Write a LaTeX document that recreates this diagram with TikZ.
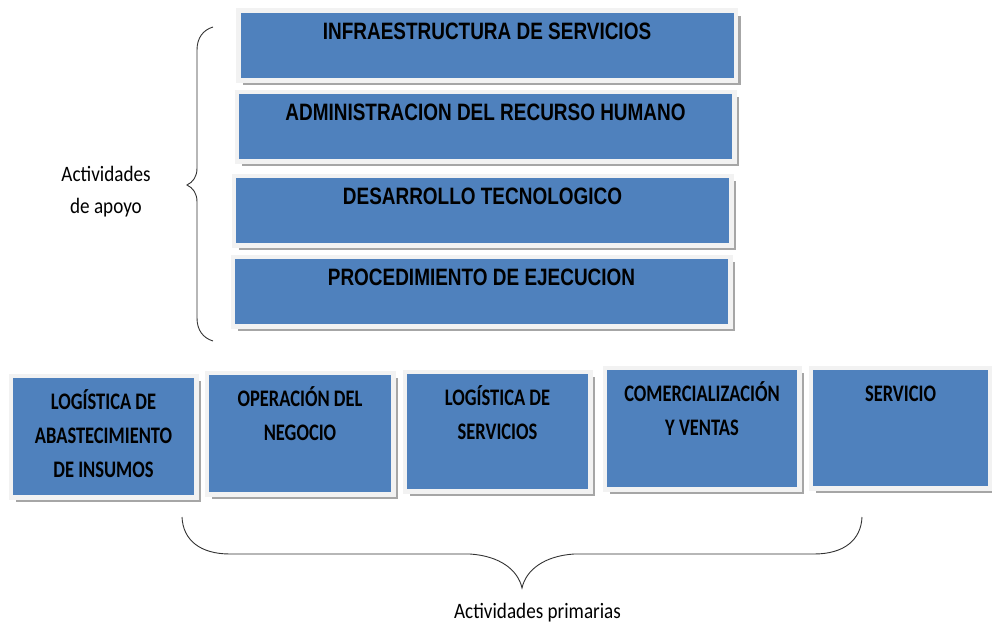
\documentclass[tikz,border=0pt]{standalone}
\usepackage{fontspec}
\newfontfamily\arialfont[FakeStretch=0.8]{Liberation Sans}
\newfontfamily\calibrifont[FakeStretch=0.78]{Carlito}
\newfontfamily\calibrilbl[FakeStretch=0.87]{Carlito}
\usetikzlibrary{shadows}
\definecolor{boxblue}{HTML}{4F81BD}
\definecolor{boxframe}{HTML}{F2F2F2}
\definecolor{boxshadow}{HTML}{A6A6A6}

\begin{document}
\begin{tikzpicture}[x=1pt,y=-1pt,
			caja/.style={rectangle,fill=boxblue,draw=boxframe,line width=4.5pt,
				inner sep=0pt,outer sep=0pt,
				drop shadow={shadow xshift=5pt,shadow yshift=-5pt,fill=boxshadow,opacity=1}},
			apoyo/.style={caja,minimum width=497.5pt,minimum height=69.5pt},
			apoyotxt/.style={anchor=north,inner sep=0pt,yshift=-12.25pt,
				font=\arialfont\bfseries\fontsize{23.7}{28}\selectfont},
			primtxt/.style={anchor=north,inner sep=0pt,yshift=-14pt,align=center,
				font=\calibrifont\bfseries\fontsize{23.7}{34}\selectfont},
			etiqueta/.style={inner sep=0pt,align=center,
				font=\calibrilbl\fontsize{22}{32}\selectfont},
			llave/.style={draw=black!80,line width=0.9pt}]
		\useasboundingbox (0,0) rectangle (992,626);

		% actividades de apoyo
		\node[apoyo,label={[apoyotxt]north:INFRAESTRUCTURA DE SERVICIOS}] (infra) at (487,45.5) {};
		\node[apoyo,label={[apoyotxt]north:ADMINISTRACION DEL RECURSO HUMANO}] (rrhh) at (485.5,126.5) {};
		\node[apoyo,label={[apoyotxt]north:DESARROLLO TECNOLOGICO}] (tecno) at (482.5,210.5) {};
		\node[apoyo,label={[apoyotxt]north:PROCEDIMIENTO DE EJECUCION}] (proc) at (481.5,291.5) {};

		% actividades primarias
		\node[caja,minimum width=185.5pt,minimum height=121.5pt,
			label={[primtxt]north:LOGÍSTICA DE\\ABASTECIMIENTO\\DE INSUMOS}] (insumos) at (103.5,436.5) {};
		\node[caja,minimum width=186.5pt,minimum height=121.5pt,
			label={[primtxt]north:OPERACIÓN DEL\\NEGOCIO}] (operacion) at (300,433.5) {};
		\node[caja,minimum width=185.5pt,minimum height=119.5pt,
			label={[primtxt]north:LOGÍSTICA DE\\SERVICIOS}] (logserv) at (497.5,431.5) {};
		\node[caja,minimum width=194.5pt,minimum height=121.5pt,
			label={[primtxt]north:COMERCIALIZACIÓN\\Y VENTAS}] (ventas) at (702,428.5) {};
		\node[caja,minimum width=179.5pt,minimum height=120.5pt,
			label={[primtxt,yshift=-4pt]north:SERVICIO}] (servicio) at (900.5,428) {};

		% llaves
		\draw[llave] (213,27) .. controls (203,30) and (197,38) .. (197,50) -- (197,168)
			.. controls (197,177) and (193,182) .. (187,185)
			.. controls (193,188) and (197,193) .. (197,202) -- (197,318)
			.. controls (197,330) and (203,338) .. (213,341);
		\draw[llave] (182,517) .. controls (183,540) and (200,554) .. (230,554) -- (470,554)
			.. controls (500,556) and (518,570) .. (522,588)
			.. controls (526,570) and (544,556) .. (574,554) -- (814,554)
			.. controls (844,554) and (861,540) .. (862,517);

		\node[etiqueta,anchor=north] (apoyolbl) at (106,166) {Actividades\\de apoyo};
		\node[etiqueta,anchor=base] (primlbl) at (537.5,618) {Actividades primarias};
\end{tikzpicture}
\end{document}
